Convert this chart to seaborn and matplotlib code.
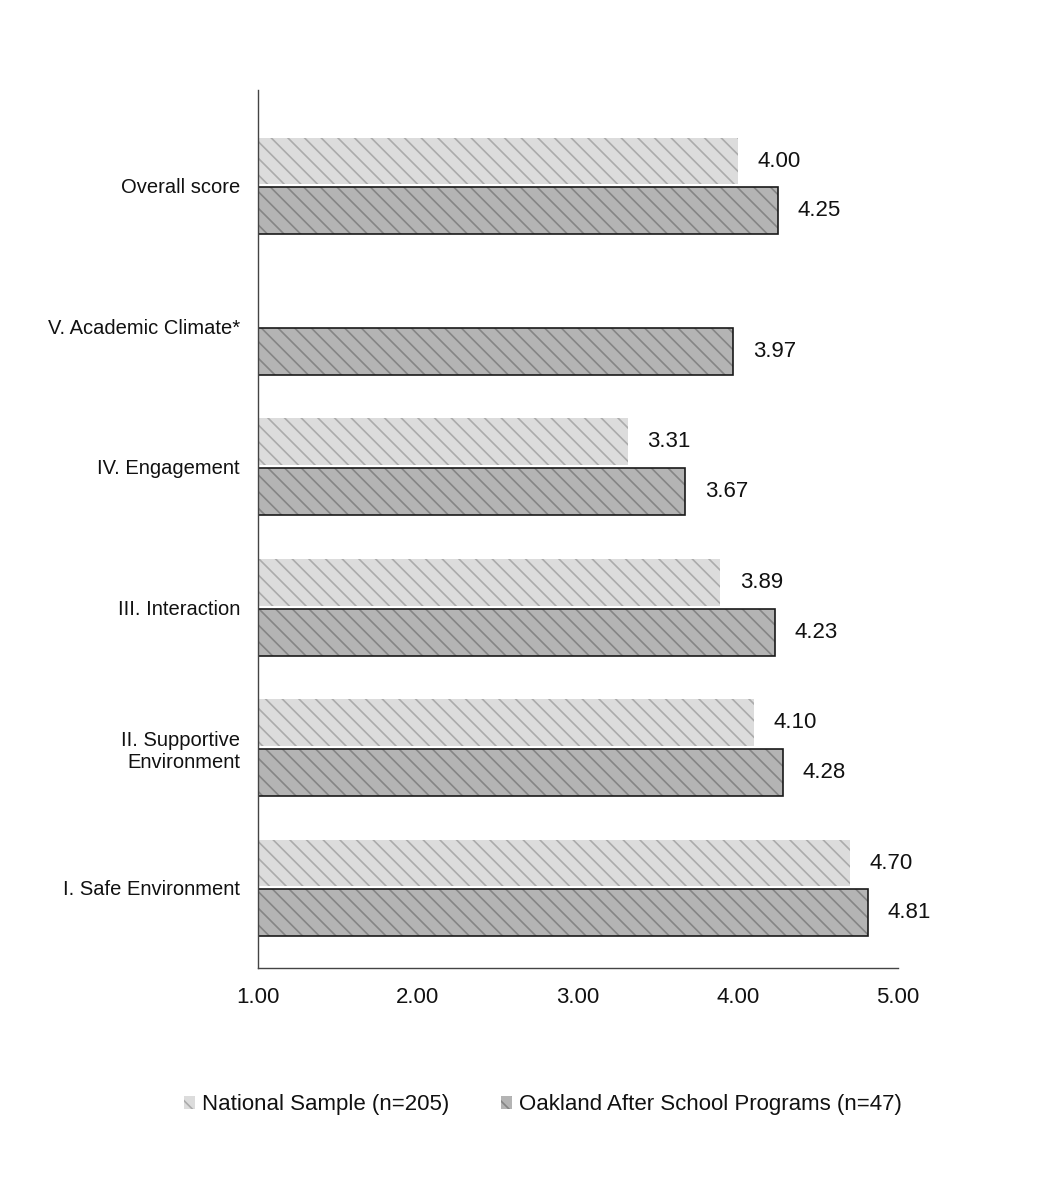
import seaborn as sns
import pandas as pd
import matplotlib.pyplot as plt
import numpy as np
from matplotlib.patches import Patch, Rectangle

# values
categories = ["Overall score", "V. Academic Climate*", "IV. Engagement",
              "III. Interaction", "II. Supportive\nEnvironment", "I. Safe Environment"]
national = [4.00, np.nan, 3.31, 3.89, 4.10, 4.70]
oakland = [4.25, 3.97, 3.67, 4.23, 4.28, 4.81]
series = ["National Sample (n=205)", "Oakland After School Programs (n=47)"]
xticks = [1.00, 2.00, 3.00, 4.00, 5.00]

df = pd.DataFrame({
    "Category": categories * 2,
    "Score": national + oakland,
    "Group": [series[0]] * len(categories) + [series[1]] * len(categories),
})

sns.set_style("white")
plt.rcParams['font.family'] = ['Liberation Sans', 'DejaVu Sans']
plt.rcParams['hatch.linewidth'] = 1.2

fig = plt.figure(figsize=(10.42, 11.93), dpi=100)
ax = fig.add_axes([0.2476, 0.1886, 0.6142, 0.736])

face = {series[0]: '#dcdcdc', series[1]: '#b4b4b4'}
hatchc = {series[0]: '#ababab', series[1]: '#858585'}

sns.barplot(ax=ax, data=df, y="Category", x="Score", hue="Group", hue_order=series,
            order=categories, orient="h", width=0.71, gap=0.06, palette=face,
            legend=False, saturation=1)

for cont, name in zip(ax.containers, series):
    for p in cont:
        p.set_hatch('\\\\')
        p.set_edgecolor(hatchc[name])
        p.set_linewidth(0)
        if name == series[1]:
            ax.add_patch(Rectangle(p.get_xy(), p.get_width(), p.get_height(),
                                   fill=False, edgecolor='#1a1a1a', lw=1.2, zorder=p.get_zorder() + 0.1))
    labs = ['' if np.isnan(v) else f'{v:.2f}' for v in cont.datavalues]
    ax.bar_label(cont, labels=labs, padding=14, fontsize=16, color='#111111')

ax.set_xlim(1, 5)
ax.set_ylim(5.57, -0.684)
ax.set_xticks(xticks)
ax.set_xticklabels([f'{t:.2f}' for t in xticks], fontsize=16, color='#111111')
ax.set_xlabel('')
ax.set_ylabel('')
ax.tick_params(axis='y', length=0, pad=13, labelsize=14.5, labelcolor='#111111')
ax.tick_params(axis='x', length=0, pad=14)
for s in ['top', 'right']:
    ax.spines[s].set_visible(False)
for s in ['left', 'bottom']:
    ax.spines[s].set_color('#444444')
    ax.spines[s].set_linewidth(1)

handles = [Patch(facecolor=face[n], edgecolor=hatchc[n], hatch='\\\\', linewidth=0) for n in series]
fig.legend(handles, series, loc='center', bbox_to_anchor=(0.521, 0.074), ncol=2,
           frameon=False, fontsize=16, handlelength=0.5, handleheight=0.5,
           handletextpad=0.3, columnspacing=2.35, labelcolor='#111111')

fig.savefig("out.png", dpi=100, facecolor='white')
